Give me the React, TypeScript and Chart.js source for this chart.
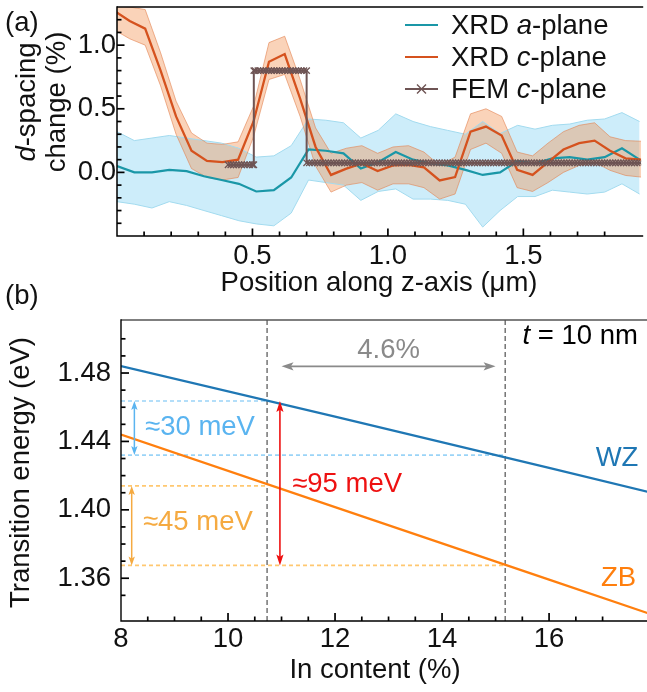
import React, { useEffect, useRef } from "react";
import { Chart, registerables } from "chart.js";

Chart.register(...registerables);

const FONT = '"Liberation Sans", Arial, Helvetica, sans-serif';
const FS = 27.5;

// ---------------- Panel (a): d-spacing change along the z-axis ----------------
const aPlanePos = [0.000, 0.064, 0.129, 0.193, 0.257, 0.321, 0.386, 0.450, 0.514, 0.579, 0.643, 0.707, 0.771, 0.836, 0.900, 0.964, 1.029, 1.093, 1.157, 1.221, 1.286, 1.350, 1.414, 1.479, 1.543, 1.607, 1.671, 1.736, 1.800, 1.864, 1.929];
const aPlaneMean = [0.05, 0.00, 0.00, 0.02, 0.01, -0.03, -0.06, -0.09, -0.15, -0.14, -0.04, 0.18, 0.17, 0.15, 0.03, 0.08, 0.16, 0.10, 0.07, 0.055, 0.02, -0.02, 0.00, 0.09, 0.07, 0.11, 0.12, 0.10, 0.12, 0.19, 0.10];
const aPlaneHi = [0.32, 0.25, 0.27, 0.29, 0.27, 0.25, 0.23, 0.19, 0.12, 0.13, 0.21, 0.42, 0.41, 0.39, 0.27, 0.33, 0.46, 0.40, 0.36, 0.33, 0.30, 0.40, 0.305, 0.37, 0.34, 0.37, 0.38, 0.41, 0.42, 0.47, 0.40];
const aPlaneLo = [-0.23, -0.25, -0.28, -0.23, -0.26, -0.30, -0.34, -0.38, -0.405, -0.42, -0.32, -0.06, -0.08, -0.10, -0.22, -0.15, -0.13, -0.21, -0.21, -0.22, -0.25, -0.43, -0.30, -0.19, -0.19, -0.14, -0.155, -0.17, -0.155, -0.09, -0.17];

const cPlanePos = [-0.010, 0.047, 0.104, 0.161, 0.218, 0.275, 0.332, 0.389, 0.447, 0.504, 0.561, 0.619, 0.676, 0.733, 0.790, 0.847, 0.904, 0.962, 1.019, 1.076, 1.133, 1.191, 1.248, 1.305, 1.362, 1.420, 1.477, 1.534, 1.591, 1.648, 1.706, 1.763, 1.820, 1.877, 1.935];
const cPlaneMean = [1.27, 1.19, 1.13, 0.80, 0.44, 0.17, 0.09, 0.08, 0.10, 0.40, 0.87, 0.93, 0.58, 0.20, -0.02, 0.03, 0.07, 0.01, 0.055, 0.06, 0.04, -0.063, -0.037, 0.32, 0.36, 0.29, 0.02, -0.02, 0.08, 0.18, 0.23, 0.25, 0.17, 0.11, 0.10];
const cPlaneHi = [1.31, 1.30, 1.28, 0.94, 0.56, 0.31, 0.23, 0.22, 0.24, 0.52, 1.02, 1.07, 0.73, 0.35, 0.15, 0.19, 0.21, 0.15, 0.20, 0.21, 0.16, 0.055, 0.12, 0.46, 0.50, 0.44, 0.16, 0.13, 0.23, 0.32, 0.37, 0.39, 0.28, 0.25, 0.245];
const cPlaneLo = [1.12, 1.05, 1.00, 0.68, 0.30, 0.03, -0.04, -0.06, -0.04, 0.28, 0.73, 0.77, 0.44, 0.05, -0.155, -0.10, -0.08, -0.14, -0.09, -0.09, -0.12, -0.21, -0.17, 0.18, 0.23, 0.15, -0.12, -0.15, -0.08, 0.00, 0.055, 0.08, 0.016, -0.024, -0.037];

const femX = [
  0.41, 0.42, 0.43, 0.44, 0.45, 0.46, 0.47, 0.48, 0.49, 0.50, 0.505,
  0.505, 0.51, 0.52, 0.53, 0.54, 0.55, 0.56, 0.57, 0.58, 0.59,
  0.60, 0.61, 0.62, 0.63, 0.64, 0.65, 0.66, 0.67, 0.68, 0.69, 0.70,
  0.70, 0.71, 0.72, 0.73, 0.74, 0.75, 0.76, 0.77, 0.78, 0.79,
  0.80, 0.81, 0.82, 0.83, 0.84, 0.85, 0.86, 0.87, 0.88, 0.89,
  0.90, 0.91, 0.92, 0.93, 0.94, 0.95, 0.96, 0.97, 0.98, 0.99,
  1.00, 1.01, 1.02, 1.03, 1.04, 1.05, 1.06, 1.07, 1.08, 1.09,
  1.10, 1.11, 1.12, 1.13, 1.14, 1.15, 1.16, 1.17, 1.18, 1.19,
  1.20, 1.21, 1.22, 1.23, 1.24, 1.25, 1.26, 1.27, 1.28, 1.29,
  1.30, 1.31, 1.32, 1.33, 1.34, 1.35, 1.36, 1.37, 1.38, 1.39,
  1.40, 1.41, 1.42, 1.43, 1.44, 1.45, 1.46, 1.47, 1.48, 1.49,
  1.50, 1.51, 1.52, 1.53, 1.54, 1.55, 1.56, 1.57, 1.58, 1.59,
  1.60, 1.61, 1.62, 1.63, 1.64, 1.65, 1.66, 1.67, 1.68, 1.69,
  1.70, 1.71, 1.72, 1.73, 1.74, 1.75, 1.76, 1.77, 1.78, 1.79,
  1.80, 1.81, 1.82, 1.83, 1.84, 1.85, 1.86, 1.87, 1.88, 1.89,
  1.90, 1.91, 1.92, 1.93,
];
const femY = [
  0.06, 0.06, 0.06, 0.06, 0.06, 0.06, 0.06, 0.06, 0.06, 0.06, 0.06,
  0.80, 0.80, 0.80, 0.80, 0.80, 0.80, 0.80, 0.80, 0.80, 0.80,
  0.80, 0.80, 0.80, 0.80, 0.80, 0.80, 0.80, 0.80, 0.80, 0.80, 0.80,
  0.075, 0.075, 0.075, 0.075, 0.075, 0.075, 0.075, 0.075, 0.075, 0.075,
  0.075, 0.075, 0.075, 0.075, 0.075, 0.075, 0.075, 0.075, 0.075, 0.075,
  0.075, 0.075, 0.075, 0.075, 0.075, 0.075, 0.075, 0.075, 0.075, 0.075,
  0.075, 0.075, 0.075, 0.075, 0.075, 0.075, 0.075, 0.075, 0.075, 0.075,
  0.075, 0.075, 0.075, 0.075, 0.075, 0.075, 0.075, 0.075, 0.075, 0.075,
  0.075, 0.075, 0.075, 0.075, 0.075, 0.075, 0.075, 0.075, 0.075, 0.075,
  0.075, 0.075, 0.075, 0.075, 0.075, 0.075, 0.075, 0.075, 0.075, 0.075,
  0.075, 0.075, 0.075, 0.075, 0.075, 0.075, 0.075, 0.075, 0.075, 0.075,
  0.075, 0.075, 0.075, 0.075, 0.075, 0.075, 0.075, 0.075, 0.075, 0.075,
  0.075, 0.075, 0.075, 0.075, 0.075, 0.075, 0.075, 0.075, 0.075, 0.075,
  0.075, 0.075, 0.075, 0.075, 0.075, 0.075, 0.075, 0.075, 0.075, 0.075,
  0.075, 0.075, 0.075, 0.075, 0.075, 0.075, 0.075, 0.075, 0.075, 0.075,
  0.075, 0.075, 0.075, 0.075,
];
const aXTickLabels = [0.5, 1.0, 1.5];
const aYTickLabels = [0.0, 0.5, 1.0];

// ---------------- Panel (b): transition energy vs In content ----------------
const wzX = [8, 12, 16, 18];
const wzY = [1.484, 1.4545, 1.4245, 1.4094];
const zbX = [8, 12, 16, 18];
const zbY = [1.444, 1.4016, 1.3592, 1.338];
const bXTickLabels = [8, 10, 12, 14, 16];
const bYTickLabels = [1.36, 1.40, 1.44, 1.48];
const inMarks = [10.73, 15.18];
const wzAtMarks = [1.4636, 1.432];
const zbAtMarks = [1.414, 1.3675];

// colours
const TEAL = "#1a97a7";
const ORANGE = "#d5521e";
const FEM_C = "#6e5454";
const BLUE_FILL = "#cdedfa";
const BLUE_EDGE = "#a3dbef";
const ORANGE_FILL = "rgba(243,140,70,0.38)";
const ORANGE_EDGE = "rgba(226,130,80,0.6)";
const WZ_C = "#1f77b4";
const ZB_C = "#ff7f0e";
const LBLUE = "#5ab4f0";
const LBLUE_DASH = "#9ad4f7";
const LORANGE = "#f5aa41";
const LORANGE_DASH = "#ffc870";
const RED = "#ee1111";
const GRAY = "#8a8a8a";

type Part = [string, boolean?];

const bNotes: { parts: Part[]; x: number; y: number; align: string; color: string }[] = [
  { parts: [["4.6%"]], x: 13.0, y: 1.4935, align: "center", color: GRAY },
  { parts: [["≈30 meV"]], x: 8.45, y: 1.448, align: "left", color: LBLUE },
  { parts: [["≈45 meV"]], x: 8.41, y: 1.3925, align: "left", color: LORANGE },
  { parts: [["≈95 meV"]], x: 11.2, y: 1.415, align: "left", color: RED },
  { parts: [["WZ"]], x: 17.27, y: 1.43, align: "center", color: WZ_C },
  { parts: [["ZB"]], x: 17.3, y: 1.36, align: "center", color: ZB_C },
  { parts: [["t", true], [" = 10 nm"]], x: 17.66, y: 1.5014, align: "right", color: "#000" },
];

const pts = (xs: number[], ys: number[]) => xs.map((x, i) => ({ x, y: ys[i] }));

function fnt(size: number, italic = false) {
  return `${italic ? "italic " : ""}${size}px ${FONT}`;
}

function rich(ctx: CanvasRenderingContext2D, parts: Part[], x: number, y: number, align: string, color: string, size = FS) {
  ctx.save();
  ctx.fillStyle = color;
  ctx.textBaseline = "middle";
  ctx.textAlign = "left";
  const widths = parts.map(([t, it]) => {
    ctx.font = fnt(size, !!it);
    return ctx.measureText(t).width;
  });
  const total = widths.reduce((a, b) => a + b, 0);
  let cx = align === "left" ? x : align === "center" ? x - total / 2 : x - total;
  parts.forEach(([t, it], i) => {
    ctx.font = fnt(size, !!it);
    ctx.fillText(t, cx, y);
    cx += widths[i];
  });
  ctx.restore();
}

function richRot(ctx: CanvasRenderingContext2D, parts: Part[], x: number, y: number, color: string) {
  ctx.save();
  ctx.translate(x, y);
  ctx.rotate(-Math.PI / 2);
  rich(ctx, parts, 0, 0, "center", color);
  ctx.restore();
}

function head(ctx: CanvasRenderingContext2D, tx: number, ty: number, dx: number, dy: number, len: number, half: number) {
  const bx = tx - dx * len, by = ty - dy * len;
  const nx = -dy, ny = dx;
  ctx.beginPath();
  ctx.moveTo(tx, ty);
  ctx.lineTo(bx + nx * half, by + ny * half);
  ctx.lineTo(tx - dx * len * 0.78, ty - dy * len * 0.78);
  ctx.lineTo(bx - nx * half, by - ny * half);
  ctx.closePath();
  ctx.fill();
}

function dblArrow(ctx: CanvasRenderingContext2D, x1: number, y1: number, x2: number, y2: number, color: string, lw: number, len: number, half: number) {
  const L = Math.hypot(x2 - x1, y2 - y1);
  const dx = (x2 - x1) / L, dy = (y2 - y1) / L;
  ctx.save();
  ctx.strokeStyle = color;
  ctx.fillStyle = color;
  ctx.lineWidth = lw;
  ctx.setLineDash([]);
  ctx.beginPath();
  ctx.moveTo(x1 + dx * len * 0.7, y1 + dy * len * 0.7);
  ctx.lineTo(x2 - dx * len * 0.7, y2 - dy * len * 0.7);
  ctx.stroke();
  head(ctx, x2, y2, dx, dy, len, half);
  head(ctx, x1, y1, -dx, -dy, len, half);
  ctx.restore();
}

function frameAndTicks(chart: any, o: { xMinor: number; xMajor: number; yMinor: number; yMajor: number; majLen: number; minLen: number; topColor: string; lw: number }) {
  const { ctx, chartArea: ca, scales } = chart;
  const xs = scales.x, ys = scales.y;
  const on = (v: number, s: number) => Math.abs(v / s - Math.round(v / s)) < 1e-6;
  ctx.save();
  ctx.lineCap = "butt";
  ctx.setLineDash([]);
  ctx.strokeStyle = o.topColor;
  ctx.lineWidth = o.lw;
  ctx.beginPath();
  ctx.moveTo(ca.left, ca.top);
  ctx.lineTo(ca.right + 2, ca.top);
  ctx.stroke();
  ctx.strokeStyle = "#000";
  ctx.beginPath();
  ctx.moveTo(ca.left, ca.top - o.lw / 2);
  ctx.lineTo(ca.left, ca.bottom);
  ctx.lineTo(ca.right + 2, ca.bottom);
  ctx.stroke();
  ctx.lineWidth = 1.7;
  for (const t of ys.ticks) {
    const v = t.value;
    if (!on(v, o.yMinor)) continue;
    const p = ys.getPixelForValue(v);
    if (p < ca.top + 2 || p > ca.bottom - 2) continue;
    const len = on(v, o.yMajor) ? o.majLen : o.minLen;
    ctx.beginPath();
    ctx.moveTo(ca.left, p);
    ctx.lineTo(ca.left + len, p);
    ctx.stroke();
  }
  for (const t of xs.ticks) {
    const v = t.value;
    if (!on(v, o.xMinor)) continue;
    const p = xs.getPixelForValue(v);
    if (p < ca.left + 2 || p > ca.right - 2) continue;
    const len = on(v, o.xMajor) ? o.majLen : o.minLen;
    ctx.beginPath();
    ctx.moveTo(p, ca.bottom);
    ctx.lineTo(p, ca.bottom - len);
    ctx.stroke();
  }
  ctx.restore();
}

const zeroPad = (s: any) => {
  s.paddingTop = 0;
  s.paddingBottom = 0;
  s.paddingLeft = 0;
  s.paddingRight = 0;
};

const legendA: { parts: Part[]; color: string; marker: boolean }[] = [
  { parts: [["XRD "], ["a", true], ["-plane"]], color: TEAL, marker: false },
  { parts: [["XRD "], ["c", true], ["-plane"]], color: ORANGE, marker: false },
  { parts: [["FEM "], ["c", true], ["-plane"]], color: FEM_C, marker: true },
];

const pluginA = {
  id: "panelA",
  afterDraw(chart: any) {
    const ctx: CanvasRenderingContext2D = chart.ctx;
    frameAndTicks(chart, { xMinor: 0.1, xMajor: 0.5, yMinor: 0.1, yMajor: 0.5, majLen: 7.5, minLen: 4.5, topColor: "#000", lw: 1.5 });
    // legend
    legendA.forEach((row, i) => {
      const y = 25 + 32 * i;
      ctx.save();
      ctx.strokeStyle = row.color;
      ctx.lineWidth = 2.2;
      ctx.beginPath();
      ctx.moveTo(405, y);
      ctx.lineTo(438, y);
      ctx.stroke();
      if (row.marker) {
        ctx.lineWidth = 1.4;
        const r = 4.5, cx = 421.5;
        ctx.beginPath();
        ctx.moveTo(cx - r, y - r);
        ctx.lineTo(cx + r, y + r);
        ctx.moveTo(cx - r, y + r);
        ctx.lineTo(cx + r, y - r);
        ctx.stroke();
      }
      ctx.restore();
      rich(ctx, row.parts, 451, y + 1, "left", "#111");
    });
    // axis titles and panel label
    richRot(ctx, [["d", true], ["-spacing"]], 27, 102, "#111");
    richRot(ctx, [["change (%)"]], 57, 102, "#111");
    rich(ctx, [["Position along z-axis (μm)"]], 379, 283, "center", "#111");
    rich(ctx, [["(a)"]], 5, 23, "left", "#111");
  },
};

const pluginB = {
  id: "panelB",
  beforeDatasetsDraw(chart: any) {
    const { ctx, chartArea: ca, scales } = chart;
    const x = scales.x, y = scales.y;
    ctx.save();
    ctx.beginPath();
    ctx.rect(ca.left, ca.top, ca.right - ca.left, ca.bottom - ca.top);
    ctx.clip();
    const hline = (yv: number, x0: number, x1: number, color: string) => {
      ctx.strokeStyle = color;
      ctx.lineWidth = 1.6;
      ctx.setLineDash([4, 3]);
      ctx.beginPath();
      ctx.moveTo(x.getPixelForValue(x0), y.getPixelForValue(yv));
      ctx.lineTo(x.getPixelForValue(x1), y.getPixelForValue(yv));
      ctx.stroke();
    };
    hline(wzAtMarks[0], 8, inMarks[0], LBLUE_DASH);
    hline(wzAtMarks[1], 8, inMarks[1], LBLUE_DASH);
    hline(zbAtMarks[0], 8, inMarks[0], LORANGE_DASH);
    hline(zbAtMarks[1], 8, inMarks[1], LORANGE_DASH);
    ctx.strokeStyle = "#6a6a6a";
    ctx.lineWidth = 1.4;
    ctx.setLineDash([5, 3]);
    inMarks.forEach((v) => {
      const px = x.getPixelForValue(v);
      ctx.beginPath();
      ctx.moveTo(px, ca.top);
      ctx.lineTo(px, ca.bottom);
      ctx.stroke();
    });
    ctx.restore();
  },
  afterDatasetsDraw(chart: any) {
    const { ctx, scales } = chart;
    const x = scales.x, y = scales.y;
    const X = (v: number) => x.getPixelForValue(v);
    const Y = (v: number) => y.getPixelForValue(v);
    dblArrow(ctx, X(8.25), Y(wzAtMarks[0]), X(8.25), Y(wzAtMarks[1]), LBLUE, 1.5, 9, 3.2);
    dblArrow(ctx, X(8.2), Y(zbAtMarks[0]), X(8.2), Y(zbAtMarks[1]), LORANGE, 1.5, 9, 3.2);
    dblArrow(ctx, X(10.97), Y(wzAtMarks[0]), X(10.97), Y(zbAtMarks[1]), RED, 1.6, 11, 3.6);
    dblArrow(ctx, X(11.0), Y(1.4839), X(15.0), Y(1.4839), GRAY, 1.6, 12, 4.2);
  },
  afterDraw(chart: any) {
    const { ctx, scales } = chart;
    const x = scales.x, y = scales.y;
    frameAndTicks(chart, { xMinor: 0.5, xMajor: 2, yMinor: 0.01, yMajor: 0.04, majLen: 8, minLen: 4.5, topColor: "#555", lw: 1.4 });
    bNotes.forEach((n) => rich(ctx, n.parts, x.getPixelForValue(n.x), y.getPixelForValue(n.y), n.align, n.color));
    richRot(ctx, [["Transition energy (eV)"]], 21, 192.5, "#111");
    rich(ctx, [["In content (%)"]], 375, 390, "center", "#111");
    rich(ctx, [["(b)"]], 5, 16, "left", "#111");
  },
};

const tickFont = { family: FONT, size: FS };

function configA(): any {
  const line = (extra: any) => ({ pointRadius: 0, tension: 0, fill: false, ...extra });
  return {
    type: "line",
    data: {
      datasets: [
        line({ label: "FEM c-plane", data: pts(femX, femY), borderColor: FEM_C, borderWidth: 2, pointStyle: "crossRot", pointRadius: 4.5, pointBorderColor: FEM_C, pointBackgroundColor: FEM_C, pointBorderWidth: 1.3, order: 1 }),
        line({ label: "XRD c-plane", data: pts(cPlanePos, cPlaneMean), borderColor: ORANGE, borderWidth: 2.3, order: 2 }),
        line({ label: "XRD a-plane", data: pts(aPlanePos, aPlaneMean), borderColor: TEAL, borderWidth: 2.2, order: 3 }),
        line({ label: "c upper", data: pts(cPlanePos, cPlaneHi), borderColor: ORANGE_EDGE, borderWidth: 1, fill: "+1", backgroundColor: ORANGE_FILL, order: 4 }),
        line({ label: "c lower", data: pts(cPlanePos, cPlaneLo), borderColor: ORANGE_EDGE, borderWidth: 1, order: 5 }),
        line({ label: "a upper", data: pts(aPlanePos, aPlaneHi), borderColor: BLUE_EDGE, borderWidth: 1, fill: "+1", backgroundColor: BLUE_FILL, order: 6 }),
        line({ label: "a lower", data: pts(aPlanePos, aPlaneLo), borderColor: BLUE_EDGE, borderWidth: 1, order: 7 }),
      ],
    },
    options: {
      responsive: false,
      animation: false,
      events: [],
      layout: { padding: { top: 7, left: 0, right: 0, bottom: 0 } },
      plugins: {
        legend: { display: false },
        tooltip: { enabled: false },
        filler: { propagate: false, drawTime: "beforeDatasetsDraw" },
      },
      scales: {
        x: {
          type: "linear",
          min: 0,
          max: 1.935,
          grid: { display: false, drawTicks: false },
          border: { display: false },
          ticks: {
            stepSize: 0.1,
            autoSkip: false,
            maxRotation: 0,
            minRotation: 0,
            padding: 4,
            color: "#111",
            font: tickFont,
            callback: (v: number) => (aXTickLabels.some((t) => Math.abs(t - v) < 1e-6) ? Number(v).toFixed(1) : ""),
          },
          afterFit: (s: any) => {
            s.height = 69;
            zeroPad(s);
          },
        },
        y: {
          type: "linear",
          min: -0.5,
          max: 1.3,
          grid: { display: false, drawTicks: false },
          border: { display: false },
          ticks: {
            stepSize: 0.1,
            autoSkip: false,
            padding: 1,
            color: "#111",
            font: tickFont,
            callback: (v: number) => (aYTickLabels.some((t) => Math.abs(t - v) < 1e-6) ? Number(v).toFixed(1) : ""),
          },
          afterFit: (s: any) => {
            s.width = 117;
            zeroPad(s);
          },
        },
      },
    },
    plugins: [pluginA],
  };
}

function configB(): any {
  return {
    type: "line",
    data: {
      datasets: [
        { label: "WZ", data: pts(wzX, wzY), borderColor: WZ_C, borderWidth: 2.2, pointRadius: 0, fill: false },
        { label: "ZB", data: pts(zbX, zbY), borderColor: ZB_C, borderWidth: 2.2, pointRadius: 0, fill: false },
      ],
    },
    options: {
      responsive: false,
      animation: false,
      events: [],
      layout: { padding: { top: 40, left: 0, right: 0, bottom: 0 } },
      plugins: { legend: { display: false }, tooltip: { enabled: false } },
      scales: {
        x: {
          type: "linear",
          min: 8,
          max: 17.83,
          grid: { display: false, drawTicks: false },
          border: { display: false },
          ticks: {
            stepSize: 0.5,
            autoSkip: false,
            maxRotation: 0,
            minRotation: 0,
            padding: 2,
            color: "#111",
            font: tickFont,
            callback: (v: number) => (bXTickLabels.some((t) => Math.abs(t - v) < 1e-6) ? String(Math.round(v)) : ""),
          },
          afterFit: (s: any) => {
            s.height = 71;
            zeroPad(s);
          },
        },
        y: {
          type: "linear",
          min: 1.335,
          max: 1.511,
          grid: { display: false, drawTicks: false },
          border: { display: false },
          ticks: {
            stepSize: 0.01,
            autoSkip: false,
            padding: 10,
            color: "#111",
            font: tickFont,
            callback: (v: number) => (bYTickLabels.some((t) => Math.abs(t - v) < 1e-6) ? Number(v).toFixed(2) : ""),
          },
          afterFit: (s: any) => {
            s.width = 121;
            zeroPad(s);
          },
        },
      },
    },
    plugins: [pluginB],
  };
}

export default function App() {
  const refA = useRef<HTMLCanvasElement>(null);
  const refB = useRef<HTMLCanvasElement>(null);
  useEffect(() => {
    const chartA = new Chart(refA.current as HTMLCanvasElement, configA());
    const chartB = new Chart(refB.current as HTMLCanvasElement, configB());
    return () => {
      chartA.destroy();
      chartB.destroy();
    };
  }, []);
  return (
    <div style={{ position: "absolute", left: 0, top: 0, width: 647, height: 692, background: "#fff", overflow: "hidden" }}>
      <canvas ref={refA} width={647} height={305} style={{ position: "absolute", left: 0, top: 0, width: 647, height: 305 }} />
      <canvas ref={refB} width={647} height={412} style={{ position: "absolute", left: 0, top: 280, width: 647, height: 412 }} />
    </div>
  );
}
